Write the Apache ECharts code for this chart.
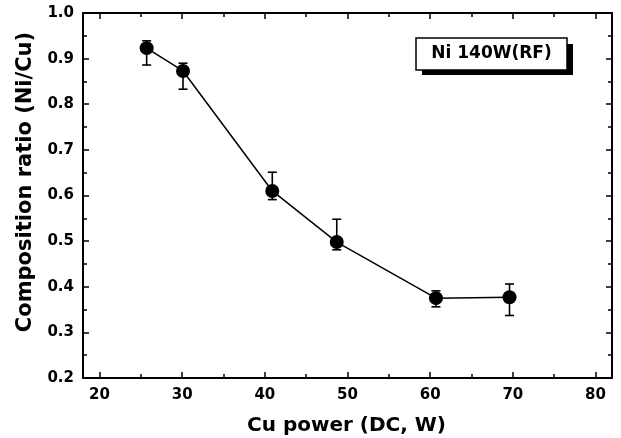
<!DOCTYPE html>
<html>
<head>
<meta charset="utf-8">
<script src="https://cdn.jsdelivr.net/npm/echarts@6/dist/echarts.min.js"></script>
<style>
  html, body { margin: 0; padding: 0; background: #fff; }
  #chart { width: 621px; height: 438px; }
</style>
</head>
<body>
<div id="chart"></div>
<script>
// Cu target power (DC, W) and the measured Ni/Cu composition ratio
const cuPower = [25.7, 30.1, 40.9, 48.7, 60.7, 69.6];
const ratio   = [0.923, 0.873, 0.610, 0.498, 0.375, 0.377];
// upper / lower ends of the error bars
const errHigh = [0.939, 0.890, 0.651, 0.548, 0.391, 0.406];
const errLow  = [0.886, 0.833, 0.591, 0.481, 0.356, 0.337];

// axis ticks
const xMajorTicks = [20, 30, 40, 50, 60, 70, 80];
const xMinorTicks = [25, 35, 45, 55, 65, 75];
const xRange = [18, 82];
const yRange = [0.2, 1.0];
const yStep = 0.1;

// texts
const seriesLabel = 'Ni 140W(RF)';
const xTitle = 'Cu power (DC, W)';
const yTitle = 'Composition ratio (Ni/Cu)';

const FONT = 'DejaVu Sans';
const INK = '#000';

const chart = echarts.init(document.getElementById('chart'), null, { renderer: 'canvas' });

function xAxisDef(position, ticks, len, withLine, withLabels) {
  return {
    type: 'value', gridIndex: 0, position: position,
    min: xRange[0], max: xRange[1],
    axisLine: { show: withLine, onZero: false, lineStyle: { color: INK, width: 2 } },
    axisTick: { show: true, inside: true, length: len, customValues: ticks, lineStyle: { color: INK, width: 1.5 } },
    axisLabel: {
      show: withLabels, customValues: ticks, margin: 10,
      color: INK, fontFamily: FONT, fontWeight: 'bold', fontSize: 15
    },
    splitLine: { show: false }
  };
}

function yAxisDef(position, withLabels) {
  return {
    type: 'value', gridIndex: 0, position: position,
    min: yRange[0], max: yRange[1], interval: yStep,
    axisLine: { show: true, onZero: false, lineStyle: { color: INK, width: 2 } },
    axisTick: { show: true, inside: true, length: 6, lineStyle: { color: INK, width: 1.5 } },
    minorTick: { show: true, splitNumber: 2, length: 4, lineStyle: { color: INK, width: 1.5 } },
    axisLabel: {
      show: withLabels, margin: 9,
      color: INK, fontFamily: FONT, fontWeight: 'bold', fontSize: 15,
      formatter: v => v.toFixed(1)
    },
    splitLine: { show: false },
    minorSplitLine: { show: false }
  };
}

const points = cuPower.map((x, i) => [x, ratio[i]]);
const bars = cuPower.map((x, i) => [x, errHigh[i], errLow[i]]);

chart.setOption({
  backgroundColor: '#fff',
  animation: false,
  grid: { left: 83, right: 9, top: 13, bottom: 60, containLabel: false },
  xAxis: [
    xAxisDef('bottom', xMajorTicks, 6, true, true),
    xAxisDef('bottom', xMinorTicks, 4, false, false),
    xAxisDef('top', xMajorTicks, 6, true, false),
    xAxisDef('top', xMinorTicks, 4, false, false)
  ],
  yAxis: [
    yAxisDef('left', true),
    yAxisDef('right', false)
  ],
  series: [
    {
      type: 'custom',
      xAxisIndex: 0, yAxisIndex: 0,
      z: 1,
      encode: { x: 0, y: [1, 2] },
      data: bars,
      renderItem: (params, api) => {
        const x = api.value(0);
        const top = api.coord([x, api.value(1)]);
        const bot = api.coord([x, api.value(2)]);
        const hw = 4.5;
        const st = { stroke: INK, lineWidth: 1.6 };
        return {
          type: 'group',
          children: [
            { type: 'line', shape: { x1: top[0], y1: top[1], x2: bot[0], y2: bot[1] }, style: st },
            { type: 'line', shape: { x1: top[0] - hw, y1: top[1], x2: top[0] + hw, y2: top[1] }, style: st },
            { type: 'line', shape: { x1: bot[0] - hw, y1: bot[1], x2: bot[0] + hw, y2: bot[1] }, style: st }
          ]
        };
      }
    },
    {
      type: 'line',
      name: seriesLabel,
      xAxisIndex: 0, yAxisIndex: 0,
      z: 3,
      data: points,
      symbol: 'circle',
      symbolSize: 14,
      itemStyle: { color: INK },
      lineStyle: { color: INK, width: 1.5 }
    }
  ],
  graphic: [
    // boxed series label with drop shadow
    { type: 'rect', shape: { x: 422, y: 44, width: 151, height: 31 }, style: { fill: INK }, z: 10 },
    { type: 'rect', shape: { x: 416, y: 38, width: 151, height: 32 }, style: { fill: '#fff', stroke: INK, lineWidth: 1.5 }, z: 11 },
    {
      type: 'text', x: 491.5, y: 54, z: 12,
      style: { text: seriesLabel, fill: INK, font: 'bold 17px "DejaVu Sans"', align: 'center', verticalAlign: 'middle' }
    },
    // axis titles
    {
      type: 'text', x: 346.5, y: 426,
      style: { text: xTitle, fill: INK, font: 'bold 20px "DejaVu Sans"', align: 'center', verticalAlign: 'middle' }
    },
    {
      type: 'text', x: 26, y: 182, rotation: Math.PI / 2,
      style: { text: yTitle, fill: INK, font: 'bold 21px "DejaVu Sans"', align: 'center', verticalAlign: 'middle' }
    }
  ]
});
</script>
</body>
</html>
